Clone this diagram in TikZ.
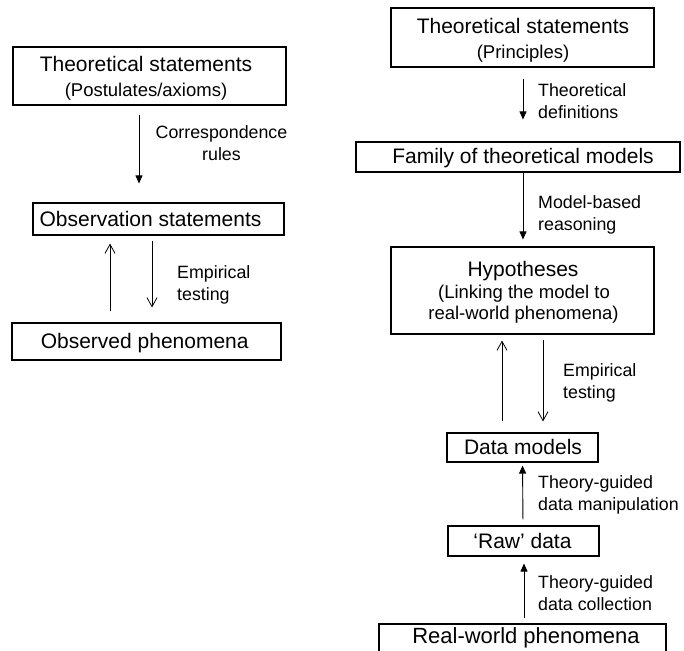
\documentclass[tikz,border=0pt]{standalone}
\usepackage{fontspec}
\setmainfont{Liberation Sans}
\usetikzlibrary{arrows.meta}
\tikzset{
  x=1pt,y=1pt,
  box/.style={draw=black, line width=1.1pt, inner sep=0pt, minimum width=#1},
  box/.default=100pt,
  ttl/.style={inner sep=0pt, yshift=-3pt, font=\fontsize{21}{25}\selectfont, text height=0.72em, text depth=0pt},
  sub/.style={inner sep=0pt, yshift=-3pt, font=\fontsize{18.5}{22}\selectfont, text height=0.72em, text depth=0pt},
  lbl/.style={inner sep=0pt, anchor=west, align=left, font=\fontsize{17.8}{22}\selectfont},
  clbl/.style={inner sep=0pt, align=center, font=\fontsize{17.8}{22}\selectfont},
  farr/.style={line width=0.9pt, -{Triangle[length=8pt,width=7pt]}},
  oarr/.style={line width=0.8pt, -{Straight Barb[length=9pt,width=10pt]}},
}
\begin{document}
\begin{tikzpicture}
\clip (0,0) rectangle (684,-650);
\useasboundingbox (0,0) rectangle (684,-650);

% ---------- left column ----------
\node[box=273pt, minimum height=58pt] (t1) at (149.5,-76) {};
\node[ttl] (t1a) at (146,-65) {Theoretical statements};
\node[sub] (t1b) at (146,-90) {(Postulates/axioms)};

\node[box=251pt, minimum height=32pt] (o1) at (158.5,-219) {};
\node[ttl] (o1a) at (150.5,-220) {Observation statements};

\node[box=269pt, minimum height=37pt] (p1) at (146.5,-341.5) {};
\node[ttl] (p1a) at (144.7,-341.7) {Observed phenomena};

\draw[farr, shorten <=9pt, shorten >=19pt] ([xshift=-10.5pt]t1.south) -- ([xshift=-19.5pt]o1.north);
\node[clbl] (l1) at (221.5,-143) {Correspondence\\rules};

\draw[oarr, shorten <=11pt, shorten >=8pt] ([xshift=-36.5pt]p1.north) -- ([xshift=-48.5pt]o1.south);
\draw[oarr, shorten <=5pt, shorten >=15pt] ([xshift=-6.5pt]o1.south) -- ([xshift=5.5pt]p1.north);
\node[lbl] (l2) at (177,-285) {Empirical\\testing};

% ---------- right column ----------
\node[box=263pt, minimum height=59pt] (t2) at (522.5,-37.5) {};
\node[ttl] (t2a) at (523,-26.7) {Theoretical statements};
\node[sub] (t2b) at (523,-51.7) {(Principles)};

\node[box=324pt, minimum height=30pt] (f) at (518,-157) {};
\node[ttl] (fa) at (523,-156.7) {Family of theoretical models};

\node[box=263pt, minimum height=87pt] (h) at (522.5,-290.5) {};
\node[ttl] (ha) at (523,-270) {Hypotheses};
\node[sub] (hb) at (524,-291.7) {(Linking the model to};
\node[sub] (hc) at (523.5,-313) {real-world phenomena)};

\node[box=151pt, minimum height=29pt] (dm) at (522.5,-447.5) {};
\node[ttl] (dma) at (523,-448.3) {Data models};

\node[box=151pt, minimum height=30pt] (rd) at (523.5,-541) {};
\node[ttl] (rda) at (522.5,-541.7) {‘Raw’ data};

\node[box=287pt, minimum height=28pt] (rw) at (522.5,-638) {};
\node[ttl, font=\fontsize{22}{26}\selectfont] (rwa) at (526,-636.7) {Real-world phenomena};

\draw[farr, shorten <=11pt, shorten >=22pt] ([xshift=0.5pt]t2.south) -- ([xshift=5pt]f.north);
\node[lbl] (l3) at (538,-101.5) {Theoretical\\definitions};

\draw[farr, shorten >=7pt] ([xshift=5pt]f.south) -- ([xshift=0.5pt]h.north);
\node[lbl] (l4) at (538,-214.5) {Model-based\\reasoning};

\draw[oarr, shorten <=11pt, shorten >=6pt] ([xshift=-20.5pt]dm.north) -- ([xshift=-20.5pt]h.south);
\draw[oarr, shorten <=5pt, shorten >=11pt] ([xshift=20.5pt]h.south) -- ([xshift=20.5pt]dm.north);
\node[lbl] (l5) at (563,-383) {Empirical\\testing};

\draw[farr, shorten <=6pt, shorten >=3pt] ([xshift=-0.5pt]rd.north) -- (dm.south);
\node[lbl] (l6) at (538,-494.5) {Theory-guided\\data manipulation};

\draw[farr, shorten <=5pt, shorten >=7pt] ([xshift=1.5pt]rw.north) -- ([xshift=0.5pt]rd.south);
\node[lbl] (l7) at (538,-593) {Theory-guided\\data collection};
\end{tikzpicture}
\end{document}
